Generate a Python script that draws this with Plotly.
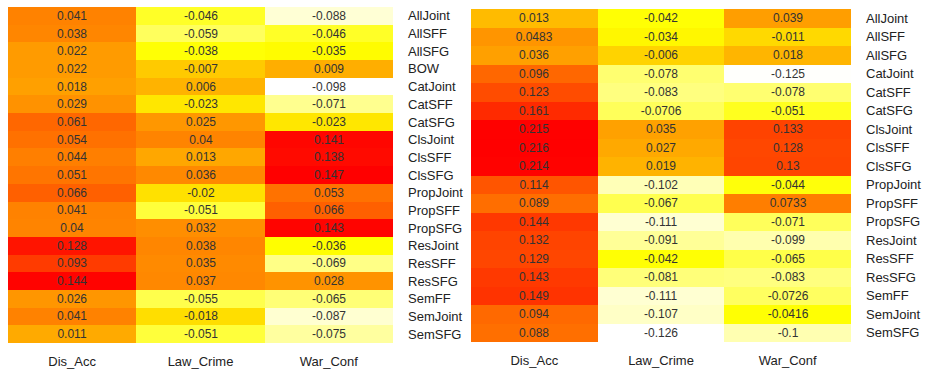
import plotly.graph_objects as go

columns = ["Dis_Acc", "Law_Crime", "War_Conf"]

left_rows = ["AllJoint", "AllSFF", "AllSFG", "BOW", "CatJoint", "CatSFF", "CatSFG",
             "ClsJoint", "ClsSFF", "ClsSFG", "PropJoint", "PropSFF", "PropSFG",
             "ResJoint", "ResSFF", "ResSFG", "SemFF", "SemJoint", "SemSFG"]
left_dis_acc = [0.041, 0.038, 0.022, 0.022, 0.018, 0.029, 0.061, 0.054, 0.044, 0.051,
                0.066, 0.041, 0.04, 0.128, 0.093, 0.144, 0.026, 0.041, 0.011]
left_law_crime = [-0.046, -0.059, -0.038, -0.007, 0.006, -0.023, 0.025, 0.04, 0.013, 0.036,
                  -0.02, -0.051, 0.032, 0.038, 0.035, 0.037, -0.055, -0.018, -0.051]
left_war_conf = [-0.088, -0.046, -0.035, 0.009, -0.098, -0.071, -0.023, 0.141, 0.138, 0.147,
                 0.053, 0.066, 0.143, -0.036, -0.069, 0.028, -0.065, -0.087, -0.075]

right_rows = ["AllJoint", "AllSFF", "AllSFG", "CatJoint", "CatSFF", "CatSFG",
              "ClsJoint", "ClsSFF", "ClsSFG", "PropJoint", "PropSFF", "PropSFG",
              "ResJoint", "ResSFF", "ResSFG", "SemFF", "SemJoint", "SemSFG"]
right_dis_acc = [0.013, 0.0483, 0.036, 0.096, 0.123, 0.161, 0.215, 0.216, 0.214,
                 0.114, 0.089, 0.144, 0.132, 0.129, 0.143, 0.149, 0.094, 0.088]
right_law_crime = [-0.042, -0.034, -0.006, -0.078, -0.083, -0.0706, 0.035, 0.027, 0.019,
                   -0.102, -0.067, -0.111, -0.091, -0.042, -0.081, -0.111, -0.107, -0.126]
right_war_conf = [0.039, -0.011, 0.018, -0.125, -0.078, -0.051, 0.133, 0.128, 0.13,
                  -0.044, 0.0733, -0.071, -0.099, -0.065, -0.083, -0.0726, -0.0416, -0.1]

heat_scale = [
    [0.0, "#FFFFFF"],
    [0.25, "#FFFF00"],
    [0.45, "#FFA800"],
    [0.6, "#FF7800"],
    [0.8, "#FF3400"],
    [1.0, "#FF0000"],
]

FONT = "Liberation Sans, Arial, sans-serif"


def panel(rows, cols_vals, xa, ya):
    z = [list(r) for r in zip(*cols_vals)]
    text = [[str(v) for v in r] for r in z]
    flat = [v for r in z for v in r]
    return go.Heatmap(
        z=z, x=columns, y=rows, text=text, texttemplate="%{text}",
        textfont=dict(family=FONT, size=12, color="#333333"),
        colorscale=heat_scale, zmin=min(flat), zmax=max(flat),
        showscale=False, xaxis=xa, yaxis=ya, hoverinfo="skip",
        xgap=0, ygap=0,
    )


fig = go.Figure()
fig.add_trace(panel(left_rows, [left_dis_acc, left_law_crime, left_war_conf], "x", "y"))
fig.add_trace(panel(right_rows, [right_dis_acc, right_law_crime, right_war_conf], "x2", "y2"))

W, H = 925, 370
axis_font = dict(family=FONT, size=13, color="#222222")
common_x = dict(showgrid=False, zeroline=False, ticks="", tickfont=axis_font,
                ticklabelstandoff=9, showline=False, automargin=False)
common_y = dict(showgrid=False, zeroline=False, ticks="", tickfont=axis_font,
                autorange="reversed", side="right", ticklabelstandoff=14,
                showline=False, automargin=False)

fig.update_layout(
    width=W, height=H,
    margin=dict(l=0, r=0, t=0, b=0),
    paper_bgcolor="white", plot_bgcolor="white",
    xaxis=dict(domain=[8 / W, 393 / W], anchor="y", **common_x),
    yaxis=dict(domain=[1 - 343 / H, 1 - 7 / H], anchor="x", **common_y),
    xaxis2=dict(domain=[471 / W, 851 / W], anchor="y2", **common_x),
    yaxis2=dict(domain=[1 - 342 / H, 1 - 9 / H], anchor="x2", **common_y),
)

fig.write_html("out.html", config={"displayModeBar": False},
               post_script="document.body.style.margin='0px';")
